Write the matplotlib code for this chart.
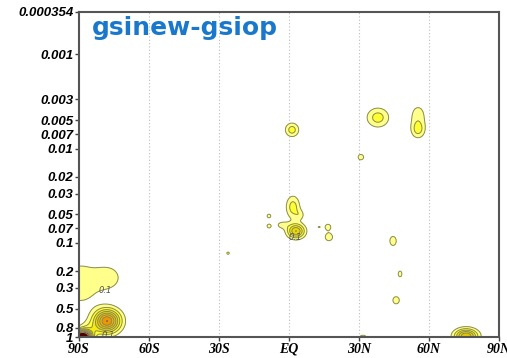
# gsinew - gsiop difference, zonal mean cross section (lat vs pressure)

import numpy as np
import matplotlib.pyplot as plt
from matplotlib.ticker import FixedLocator, NullLocator

# Blobs of the difference field:
# centre latitude, centre log10(pressure), amplitude, half width (deg), half width (log10 p)
blob_lat = [-89.6, -77.6, -78.0, -88.7, -86.0, 1.3, 38.1, 55.3, 55.3, 30.8,
            1.7, 3.0, -3.0, 4.7, -8.6, -8.6, 12.9, 16.7, 17.1, 44.6, 47.6, 45.9, 31.7, 75.9, -26.1]
blob_logp = [-0.57, -0.63, -0.17, 0.0, -0.08, -2.20, -2.33, -2.35, -2.20, -1.91,
             -1.38, -1.125, -1.19, -1.295, -1.285, -1.178, -1.168, -1.168, -1.061, -1.02, -0.67, -0.39, 0.01, -0.01, -0.89]
blob_amp = [0.19, 0.16, 0.8, 1.6, 0.15, 0.25, 0.25, 0.15, 0.22, 0.15,
            0.25, 0.5, 0.13, 0.12, 0.13, 0.13, 0.11, 0.15, 0.17, 0.15, 0.13, 0.15, 0.15, 0.6, 0.12]
blob_wlat = [6.0, 4.3, 3.9, 2.6, 3.0, 2.1, 3.4, 2.6, 2.1, 1.3,
             2.1, 2.6, 2.1, 1.5, 1.1, 1.1, 0.9, 1.3, 1.5, 1.5, 1.1, 1.5, 1.7, 3.4, 0.9]
blob_wlogp = [0.16, 0.095, 0.085, 0.045, 0.06, 0.053, 0.074, 0.095, 0.064, 0.032,
              0.085, 0.053, 0.032, 0.04, 0.027, 0.027, 0.011, 0.032, 0.037, 0.053, 0.042, 0.042, 0.032, 0.053, 0.021]

levels = [0.1, 0.2, 0.3, 0.4, 0.5, 0.6, 0.7, 0.8, 1.0, 2.0]
fill_colors = ['#ffff8c', '#ffff30', '#f5eb10', '#ecd800', '#e6c800',
               '#f0b400', '#f09600', '#c83000', '#500000']

ytick_vals = [0.000354, 0.001, 0.003, 0.005, 0.007, 0.01, 0.02, 0.03,
              0.05, 0.07, 0.1, 0.2, 0.3, 0.5, 0.8, 1]
ytick_labels = ['0.000354', '0.001', '0.003', '0.005', '0.007', '0.01', '0.02', '0.03',
                '0.05', '0.07', '0.1', '0.2', '0.3', '0.5', '0.8', '1']
xtick_vals = [-90, -60, -30, 0, 30, 60, 90]
xtick_labels = ['90S', '60S', '30S', 'EQ', '30N', '60N', '90N']

# build the field on a lat / log-p grid
lat = np.linspace(-90, 90, 361)
logp = np.linspace(np.log10(0.000354), 0, 400)
LAT, LOGP = np.meshgrid(lat, logp)
field = np.zeros_like(LAT)
for la, lp, a, wx, wy in zip(blob_lat, blob_logp, blob_amp, blob_wlat, blob_wlogp):
	field += a * np.exp(-0.5 * (((LAT - la) / wx) ** 2 + ((LOGP - lp) / wy) ** 2))
pres = 10 ** LOGP

fig = plt.figure(figsize=(5.07, 3.58), dpi=100)
ax = fig.add_axes([79 / 507, 21 / 358, 420 / 507, 325 / 358])

ax.contourf(LAT, pres, field, levels=levels, colors=fill_colors)
ax.contour(LAT, pres, field, levels=levels, colors='#8a8a5a', linewidths=0.7)

ax.set_yscale('log')
ax.set_ylim(1, 0.000354)
ax.set_xlim(-90, 90)
ax.yaxis.set_major_locator(FixedLocator(ytick_vals))
ax.yaxis.set_minor_locator(NullLocator())
ax.set_yticklabels(ytick_labels, fontfamily='Liberation Sans', fontweight='bold',
                   fontstyle='italic', fontsize=9.5)
ax.set_xticks(xtick_vals)
ax.set_xticklabels(xtick_labels, fontfamily='Liberation Serif', fontweight='bold',
                   fontstyle='italic', fontsize=10)
ax.tick_params(direction='out', length=3, width=1, color='#444444', pad=1)

for x in xtick_vals[1:-1]:
	ax.axvline(x, color='#bbbbbb', linestyle=(0, (1, 2)), linewidth=0.8, zorder=0)

for s in ax.spines.values():
	s.set_color('#555555')
	s.set_linewidth(1.5)

# contour labels
for lx, ly in [(-78.9, 0.317), (-77.5, 0.96), (2.6, 0.087)]:
	ax.text(lx, ly, '0.1', fontsize=6, fontstyle='italic', color='#555555',
	        ha='center', va='center')

fig.text(92 / 507, 1 - 28 / 358, 'gsinew-gsiop', color='#1a78cc', fontsize=18,
         fontweight='bold', va='center', ha='left')

plt.savefig('out.png', dpi=100)
